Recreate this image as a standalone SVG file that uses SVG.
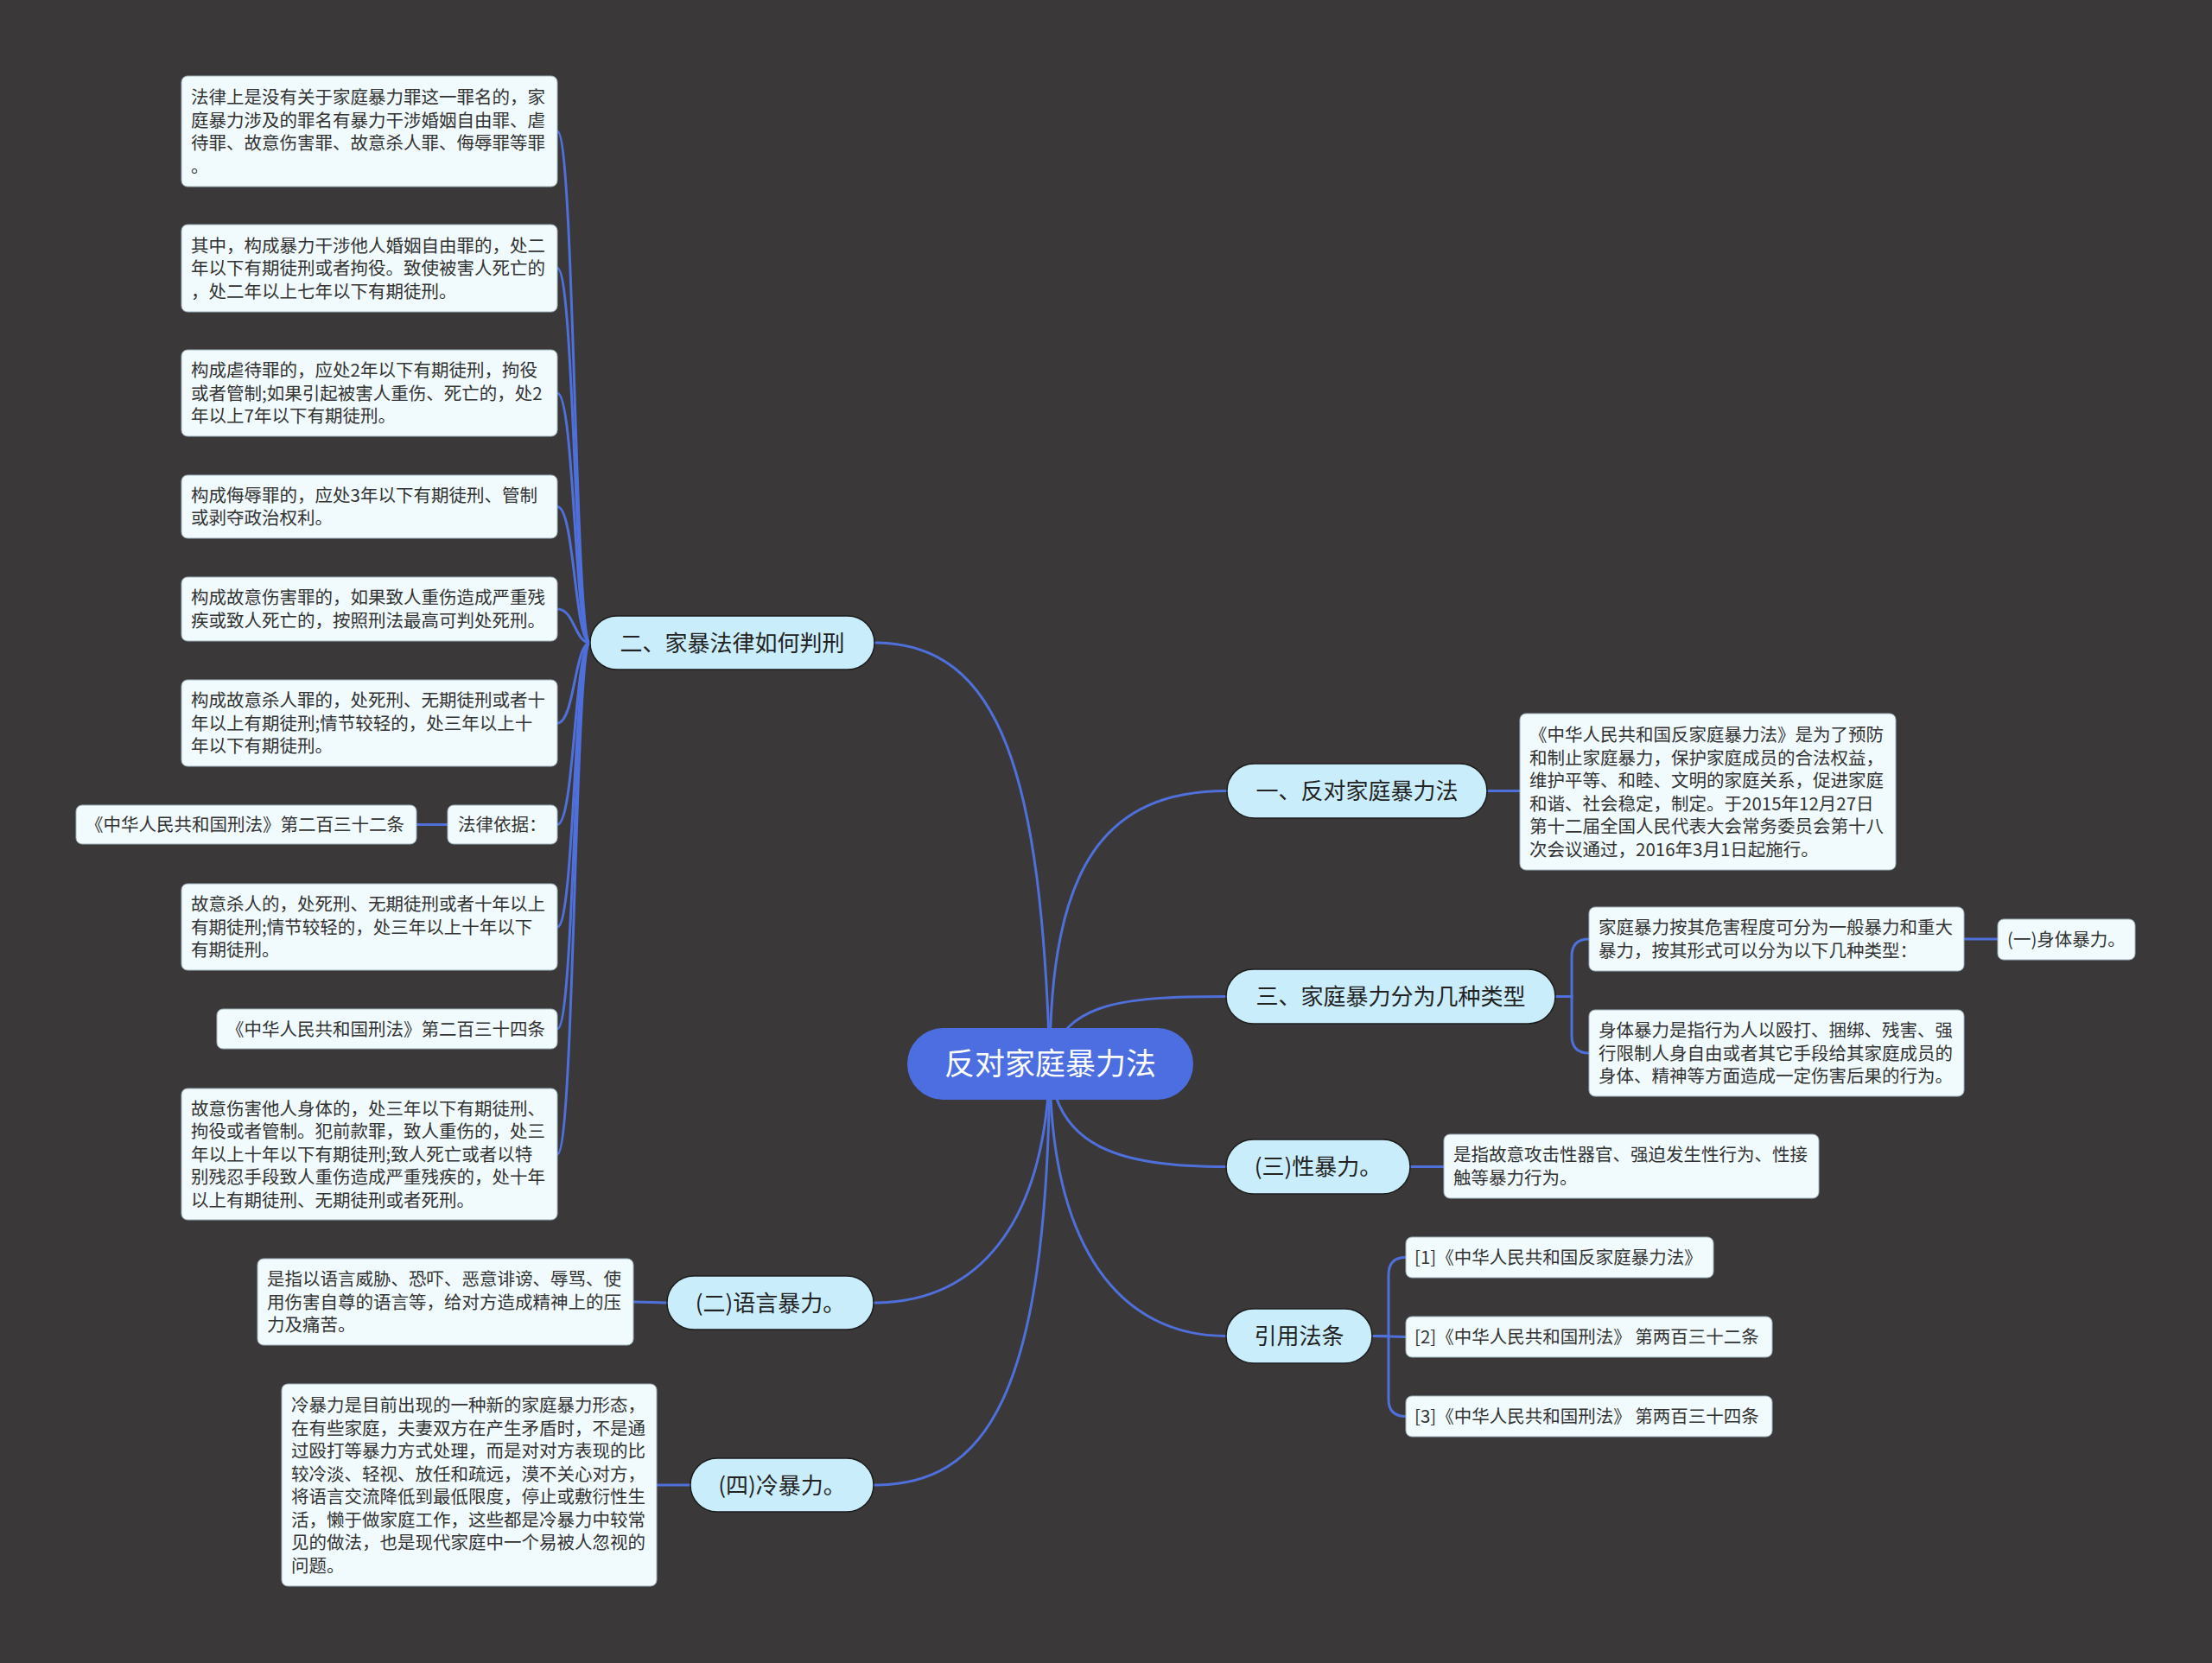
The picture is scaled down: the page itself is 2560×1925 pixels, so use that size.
<svg xmlns="http://www.w3.org/2000/svg" width="2560" height="1925" viewBox="0 0 2560 1925">
<style>
.bg{fill:#3a3839}
.ln{fill:none;stroke:#4f6fdb;stroke-width:3;stroke-linecap:round}
.root rect{fill:#4c6ee0}
.root text{fill:#ffffff;font-size:35px;text-anchor:middle}
.br rect{fill:#caedfc;stroke:#1c1c1c;stroke-width:1.5}
.br text{fill:#222222;font-size:26px;text-anchor:middle}
.bx rect{fill:#f1fbfe;stroke:#9fb3bd;stroke-width:1}
.bx text{fill:#333333;font-size:20.5px}
text{font-family:"Noto Sans CJK SC","Noto Sans",sans-serif}
</style>
<rect class="bg" x="0" y="0" width="2560" height="1925"/>
<g id="connectors">
<path class="ln" d="M1215 1231 C1205 900,1160 744,1012 744"/>
<path class="ln" d="M1215 1231 C1215 1000,1280 915.5,1420 915.5"/>
<path class="ln" d="M1215 1231 C1230 1160,1300 1153.5,1419 1153.5"/>
<path class="ln" d="M1215 1231 C1220 1330,1300 1350.5,1419 1350.5"/>
<path class="ln" d="M1215 1231 C1215 1450,1300 1546.5,1419 1546.5"/>
<path class="ln" d="M1215 1231 C1210 1420,1130 1508,1011 1508"/>
<path class="ln" d="M1215 1231 C1212 1620,1140 1719,1011 1719"/>
<path class="ln" d="M683 744 C665 744,665 152,645 152"/>
<path class="ln" d="M683 744 C665 744,665 310.5,645 310.5"/>
<path class="ln" d="M683 744 C665 744,665 455,645 455"/>
<path class="ln" d="M683 744 C665 744,665 586.5,645 586.5"/>
<path class="ln" d="M683 744 C665 744,665 705,645 705"/>
<path class="ln" d="M683 744 C665 744,665 837,645 837"/>
<path class="ln" d="M683 744 C665 744,665 954.5,645 954.5"/>
<path class="ln" d="M683 744 C665 744,665 1073,645 1073"/>
<path class="ln" d="M683 744 C665 744,665 1191,645 1191"/>
<path class="ln" d="M683 744 C665 744,665 1336,645 1336"/>
<path class="ln" d="M518 954.5 L482 954.5"/>
<path class="ln" d="M1721 915.5 L1759 915.5"/>
<path class="ln" d="M1800 1153.5 H1819 V1107 Q1819 1087 1839 1087"/>
<path class="ln" d="M1800 1153.5 H1819 V1199 Q1819 1219 1839 1219"/>
<path class="ln" d="M2273 1087 L2312 1087"/>
<path class="ln" d="M1632 1350.5 L1671 1350.5"/>
<path class="ln" d="M1588 1546.5 H1607 V1475.5 Q1607 1455.5 1627 1455.5"/>
<path class="ln" d="M1588 1546.5 L1627 1547.5"/>
<path class="ln" d="M1588 1546.5 H1607 V1619.5 Q1607 1639.5 1627 1639.5"/>
<path class="ln" d="M772 1508 L733 1507"/>
<path class="ln" d="M799 1719 L760 1719"/>
</g>
<g id="root" class="root"><rect x="1050" y="1190" width="331" height="83" rx="41.5"/><text x="1215.5" y="1244">反对家庭暴力法</text></g>
<g id="b2" class="br"><rect x="683" y="713" width="329" height="62" rx="31"/><text x="847.5" y="753.5">二、家暴法律如何判刑</text></g>
<g id="b1" class="br"><rect x="1420" y="884" width="301" height="63" rx="31.5"/><text x="1570.5" y="925">一、反对家庭暴力法</text></g>
<g id="b3" class="br"><rect x="1419" y="1122" width="381" height="63" rx="31.5"/><text x="1609.5" y="1163">三、家庭暴力分为几种类型</text></g>
<g id="bsex" class="br"><rect x="1419" y="1319" width="213" height="63" rx="31.5"/><text x="1525.5" y="1360">(三)性暴力。</text></g>
<g id="bcite" class="br"><rect x="1419" y="1515" width="169" height="63" rx="31.5"/><text x="1503.5" y="1556">引用法条</text></g>
<g id="bverbal" class="br"><rect x="772" y="1477" width="239" height="62" rx="31"/><text x="891.5" y="1517.5">(二)语言暴力。</text></g>
<g id="bcold" class="br"><rect x="799" y="1688" width="212" height="62" rx="31"/><text x="905" y="1728.5">(四)冷暴力。</text></g>
<g id="t1" class="bx"><rect x="210" y="88" width="435" height="128" rx="7"/><text x="221" y="120">法律上是没有关于家庭暴力罪这一罪名的，家</text><text x="221" y="146.5">庭暴力涉及的罪名有暴力干涉婚姻自由罪、虐</text><text x="221" y="173">待罪、故意伤害罪、故意杀人罪、侮辱罪等罪</text><text x="221" y="199.5">。</text></g>
<g id="t2" class="bx"><rect x="210" y="260" width="435" height="101" rx="7"/><text x="221" y="291.5">其中，构成暴力干涉他人婚姻自由罪的，处二</text><text x="221" y="318">年以下有期徒刑或者拘役。致使被害人死亡的</text><text x="221" y="344.5">，处二年以上七年以下有期徒刑。</text></g>
<g id="t3" class="bx"><rect x="210" y="405" width="435" height="100" rx="7"/><text x="221" y="436">构成虐待罪的，应处2年以下有期徒刑，拘役</text><text x="221" y="462.5">或者管制;如果引起被害人重伤、死亡的，处2</text><text x="221" y="489">年以上7年以下有期徒刑。</text></g>
<g id="t4" class="bx"><rect x="210" y="550" width="435" height="73" rx="7"/><text x="221" y="580.5">构成侮辱罪的，应处3年以下有期徒刑、管制</text><text x="221" y="607">或剥夺政治权利。</text></g>
<g id="t5" class="bx"><rect x="210" y="668" width="435" height="74" rx="7"/><text x="221" y="699">构成故意伤害罪的，如果致人重伤造成严重残</text><text x="221" y="725.5">疾或致人死亡的，按照刑法最高可判处死刑。</text></g>
<g id="t6" class="bx"><rect x="210" y="787" width="435" height="100" rx="7"/><text x="221" y="818">构成故意杀人罪的，处死刑、无期徒刑或者十</text><text x="221" y="844.5">年以上有期徒刑;情节较轻的，处三年以上十</text><text x="221" y="871">年以下有期徒刑。</text></g>
<g id="t7" class="bx"><rect x="518" y="932" width="127" height="45" rx="7"/><text x="530" y="962">法律依据：</text></g>
<g id="t8" class="bx"><rect x="88" y="932" width="394" height="45" rx="7"/><text x="99" y="962">《中华人民共和国刑法》第二百三十二条</text></g>
<g id="t9" class="bx"><rect x="210" y="1023" width="435" height="100" rx="7"/><text x="221" y="1054">故意杀人的，处死刑、无期徒刑或者十年以上</text><text x="221" y="1080.5">有期徒刑;情节较轻的，处三年以上十年以下</text><text x="221" y="1107">有期徒刑。</text></g>
<g id="t10" class="bx"><rect x="251" y="1168" width="394" height="46" rx="7"/><text x="262" y="1198.5">《中华人民共和国刑法》第二百三十四条</text></g>
<g id="t11" class="bx"><rect x="210" y="1260" width="435" height="152" rx="7"/><text x="221" y="1290.5">故意伤害他人身体的，处三年以下有期徒刑、</text><text x="221" y="1317">拘役或者管制。犯前款罪，致人重伤的，处三</text><text x="221" y="1343.5">年以上十年以下有期徒刑;致人死亡或者以特</text><text x="221" y="1370">别残忍手段致人重伤造成严重残疾的，处十年</text><text x="221" y="1396.5">以上有期徒刑、无期徒刑或者死刑。</text></g>
<g id="t12" class="bx"><rect x="298" y="1457" width="435" height="100" rx="7"/><text x="309" y="1488">是指以语言威胁、恐吓、恶意诽谤、辱骂、使</text><text x="309" y="1514.5">用伤害自尊的语言等，给对方造成精神上的压</text><text x="309" y="1541">力及痛苦。</text></g>
<g id="t13" class="bx"><rect x="326" y="1602" width="434" height="234" rx="7"/><text x="337" y="1634">冷暴力是目前出现的一种新的家庭暴力形态，</text><text x="337" y="1660.5">在有些家庭，夫妻双方在产生矛盾时，不是通</text><text x="337" y="1687">过殴打等暴力方式处理，而是对对方表现的比</text><text x="337" y="1713.5">较冷淡、轻视、放任和疏远，漠不关心对方，</text><text x="337" y="1740">将语言交流降低到最低限度，停止或敷衍性生</text><text x="337" y="1766.5">活，懒于做家庭工作，这些都是冷暴力中较常</text><text x="337" y="1793">见的做法，也是现代家庭中一个易被人忽视的</text><text x="337" y="1819.5">问题。</text></g>
<g id="t14" class="bx"><rect x="1759" y="826" width="435" height="181" rx="7"/><text x="1770" y="858">《中华人民共和国反家庭暴力法》是为了预防</text><text x="1770" y="884.5">和制止家庭暴力，保护家庭成员的合法权益，</text><text x="1770" y="911">维护平等、和睦、文明的家庭关系，促进家庭</text><text x="1770" y="937.5">和谐、社会稳定，制定。于2015年12月27日</text><text x="1770" y="964">第十二届全国人民代表大会常务委员会第十八</text><text x="1770" y="990.5">次会议通过，2016年3月1日起施行。</text></g>
<g id="t15" class="bx"><rect x="1839" y="1050" width="434" height="74" rx="7"/><text x="1850" y="1081">家庭暴力按其危害程度可分为一般暴力和重大</text><text x="1850" y="1107.5">暴力，按其形式可以分为以下几种类型：</text></g>
<g id="t16" class="bx"><rect x="2312" y="1064" width="159" height="47" rx="7"/><text x="2323" y="1095">(一)身体暴力。</text></g>
<g id="t17" class="bx"><rect x="1839" y="1169" width="434" height="100" rx="7"/><text x="1850" y="1200">身体暴力是指行为人以殴打、捆绑、残害、强</text><text x="1850" y="1226.5">行限制人身自由或者其它手段给其家庭成员的</text><text x="1850" y="1253">身体、精神等方面造成一定伤害后果的行为。</text></g>
<g id="t18" class="bx"><rect x="1671" y="1313" width="434" height="74" rx="7"/><text x="1682" y="1344">是指故意攻击性器官、强迫发生性行为、性接</text><text x="1682" y="1370.5">触等暴力行为。</text></g>
<g id="t19" class="bx"><rect x="1627" y="1432" width="356" height="47" rx="7"/><text x="1637" y="1463">[1]《中华人民共和国反家庭暴力法》</text></g>
<g id="t20" class="bx"><rect x="1627" y="1524" width="424" height="47" rx="7"/><text x="1637" y="1555">[2]《中华人民共和国刑法》 第两百三十二条</text></g>
<g id="t21" class="bx"><rect x="1627" y="1616" width="424" height="47" rx="7"/><text x="1637" y="1647">[3]《中华人民共和国刑法》 第两百三十四条</text></g>
</svg>
